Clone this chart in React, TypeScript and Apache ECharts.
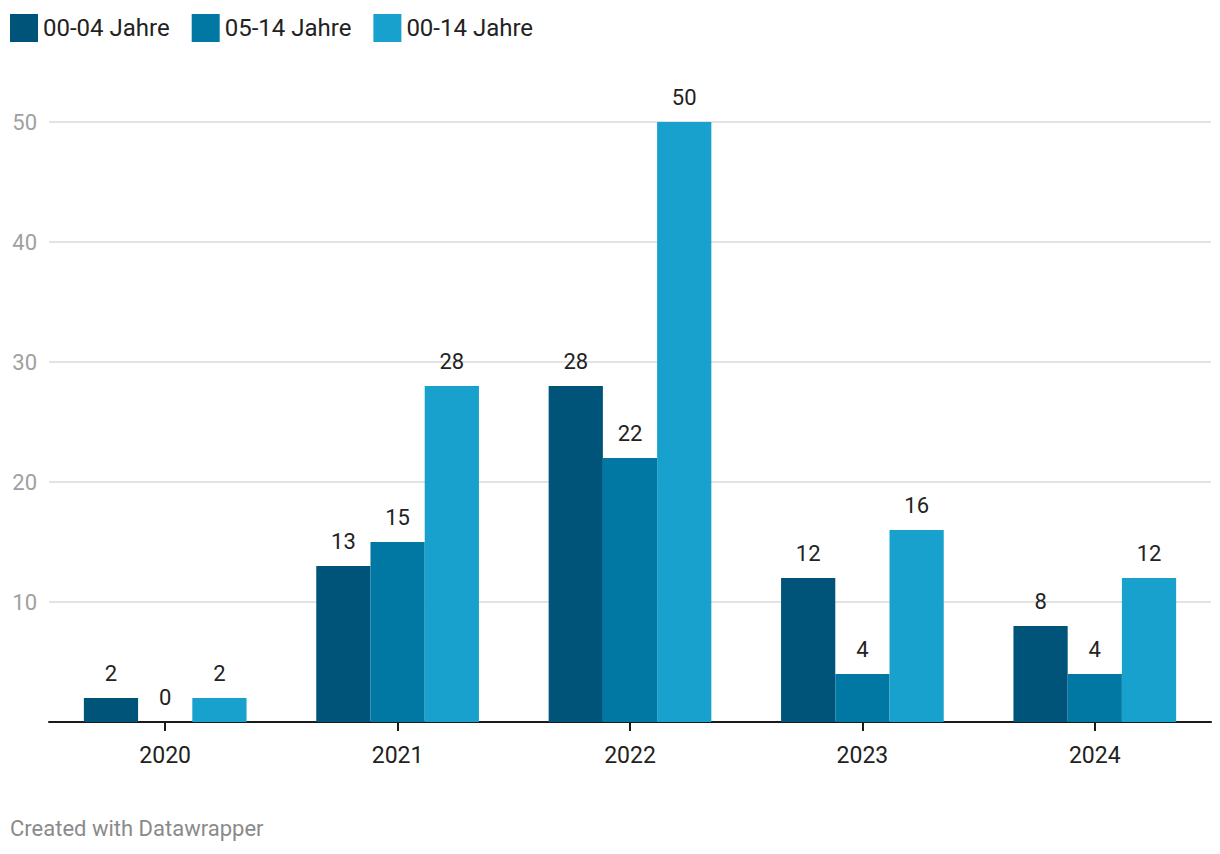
import React, { useEffect, useRef } from "react";
import * as echarts from "echarts";

const categories = ["2020", "2021", "2022", "2023", "2024"];
const seriesNames = ["00-04 Jahre", "05-14 Jahre", "00-14 Jahre"];
const values0004 = [2, 13, 28, 12, 8];
const values0514 = [0, 15, 22, 4, 4];
const values0014 = [2, 28, 50, 16, 12];
const colors = ["#00547a", "#0078a3", "#19a1cd"];
const yTicks = [10, 20, 30, 40, 50];

export default function App() {
  const ref = useRef<HTMLDivElement>(null);
  useEffect(() => {
    document.body.style.margin = "0";
    const chart = echarts.init(ref.current!, null, { renderer: "svg" });
    const font = "Roboto, 'Noto Sans', sans-serif";
    const data = [values0004, values0514, values0014];
    chart.setOption({
      animation: false,
      textStyle: { fontFamily: font },
      legend: {
        left: 5,
        top: 9,
        itemWidth: 28,
        itemHeight: 28,
        itemGap: 22,
        icon: "rect",
        textStyle: { fontSize: 24, lineHeight: 28, color: "#222", fontFamily: font },
        data: seriesNames,
      },
      grid: { left: 49, right: 9, top: 122, bottom: 132 },
      xAxis: {
        type: "category",
        data: categories,
        axisLine: { lineStyle: { color: "#1a1a1a", width: 2 } },
        axisTick: { show: true, alignWithLabel: true, length: 9, lineStyle: { color: "#1a1a1a", width: 2 } },
        axisLabel: { fontSize: 23, color: "#222", margin: 22, fontFamily: font },
      },
      yAxis: {
        type: "value",
        min: 0,
        max: 50,
        interval: 10,
        axisLine: { show: false },
        axisTick: { show: false },
        axisLabel: {
          fontSize: 22,
          color: "#a0a0a0",
          margin: 12,
          fontFamily: font,
          formatter: (v: number) => (yTicks.includes(v) ? String(v) : ""),
        },
        splitLine: {
          lineStyle: { color: "#e3e3e3", width: 2 },
        },
      },
      series: seriesNames.map((name, i) => ({
        name,
        type: "bar",
        data: data[i],
        barGap: "0%",
        barCategoryGap: "30%",
        itemStyle: { color: colors[i] },
        label: {
          show: true,
          position: "top",
          distance: 14,
          fontSize: 22,
          color: "#222",
          fontFamily: font,
        },
      })),
      graphic: [
        {
          type: "text",
          left: 10,
          top: 817,
          style: {
            text: "Created with Datawrapper",
            fontSize: 22,
            fill: "#8a8a8a",
            fontFamily: font,
          },
        },
      ],
    });
    return () => chart.dispose();
  }, []);
  return <div ref={ref} style={{ width: 1220, height: 854 }} />;
}
